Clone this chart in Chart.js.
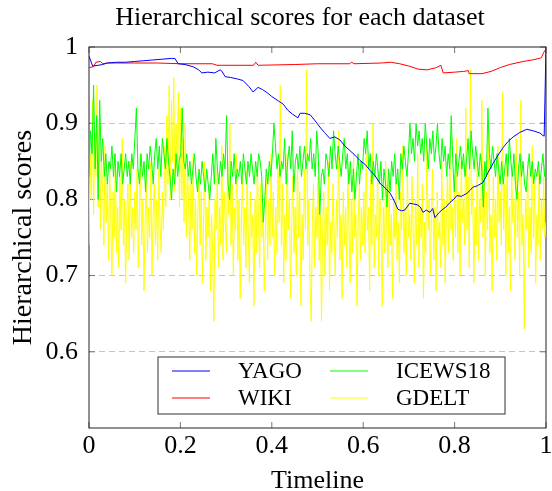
<!DOCTYPE html>
<html>
<head>
<meta charset="utf-8">
<script src="https://cdn.jsdelivr.net/npm/chart.js@4.4.1/dist/chart.umd.min.js"></script>
<style>
  html, body { margin: 0; padding: 0; background: #fff; }
  canvas { display: block; }
</style>
</head>
<body>
<canvas id="scores_chart" width="552" height="491"></canvas>
<script>
// axis ticks
const xTickValues = [0, 0.2, 0.4, 0.6, 0.8, 1];
const yTickValues = [0.6, 0.7, 0.8, 0.9, 1];

// YAGO (timeline position, score)
const yagoX = [0, 0.008, 0.02, 0.03, 0.04, 0.06, 0.08, 0.10, 0.12, 0.14, 0.16, 0.18, 0.188, 0.195, 0.21,
  0.228, 0.24, 0.247, 0.26, 0.275, 0.287, 0.291, 0.298, 0.31, 0.325, 0.337, 0.35, 0.359, 0.37, 0.38,
  0.39, 0.40, 0.415, 0.425, 0.435, 0.445, 0.457, 0.462, 0.472, 0.484, 0.495, 0.505, 0.515, 0.527, 0.538,
  0.549, 0.56, 0.571, 0.582, 0.593, 0.604, 0.615, 0.626, 0.637, 0.648, 0.659, 0.668, 0.676, 0.684, 0.691,
  0.702, 0.71, 0.718, 0.725, 0.731, 0.738, 0.746, 0.752, 0.757, 0.765, 0.772, 0.781, 0.790, 0.798, 0.805,
  0.815, 0.827, 0.834, 0.840, 0.85, 0.862, 0.873, 0.884, 0.895, 0.906, 0.917, 0.928, 0.943, 0.958, 0.972,
  0.987, 0.993, 0.996, 1.0];
const yagoY = [0.988, 0.975, 0.976, 0.977, 0.979, 0.980, 0.980, 0.981, 0.982, 0.983, 0.984, 0.985, 0.985, 0.978, 0.977,
  0.974, 0.970, 0.966, 0.967, 0.966, 0.970, 0.968, 0.961, 0.960, 0.958, 0.956, 0.948, 0.941, 0.947, 0.944,
  0.940, 0.935, 0.929, 0.925, 0.917, 0.912, 0.907, 0.913, 0.913, 0.911, 0.903, 0.895, 0.888, 0.880, 0.882,
  0.878, 0.870, 0.864, 0.858, 0.851, 0.846, 0.838, 0.831, 0.821, 0.815, 0.808, 0.798, 0.787, 0.785, 0.786,
  0.795, 0.794, 0.793, 0.790, 0.783, 0.786, 0.783, 0.788, 0.776, 0.782, 0.786, 0.790, 0.796, 0.800, 0.805,
  0.804, 0.808, 0.812, 0.816, 0.818, 0.822, 0.835, 0.847, 0.858, 0.868, 0.876, 0.882, 0.888, 0.892, 0.890,
  0.887, 0.884, 0.883, 1.0];

// WIKI (timeline position, score)
const wikiX = [0, 0.01, 0.015, 0.025, 0.03, 0.04, 0.06, 0.1, 0.15, 0.2, 0.27, 0.28, 0.36, 0.365, 0.37,
  0.45, 0.5, 0.57, 0.575, 0.58, 0.64, 0.66, 0.68, 0.70, 0.72, 0.74, 0.76, 0.77, 0.775, 0.80,
  0.82, 0.83, 0.832, 0.86, 0.88, 0.90, 0.92, 0.95, 0.97, 0.985, 0.99, 0.995, 1.0];
const wikiY = [0.973, 0.974, 0.980, 0.981, 0.978, 0.979, 0.979, 0.979, 0.979, 0.978, 0.978, 0.976, 0.976, 0.980, 0.976,
  0.977, 0.978, 0.978, 0.980, 0.978, 0.979, 0.980, 0.978, 0.975, 0.971, 0.970, 0.973, 0.976, 0.966, 0.967,
  0.968, 0.969, 0.965, 0.965, 0.968, 0.973, 0.977, 0.981, 0.983, 0.985, 0.986, 0.993, 0.997];

// ICEWS18, evenly spaced over the timeline (30 per 0.1)
const icewsY = [
  0.83, 0.89, 0.86, 0.95, 0.84, 0.91, 0.80, 0.93, 0.85, 0.88, 0.83, 0.86, 0.82, 0.85, 0.84, 0.87, 0.83, 0.86, 0.81, 0.85, 0.83, 0.86, 0.82, 0.84, 0.86, 0.83, 0.85, 0.82, 0.86, 0.84,
  0.88, 0.92, 0.84, 0.82, 0.86, 0.83, 0.85, 0.81, 0.86, 0.84, 0.87, 0.85, 0.82, 0.86, 0.88, 0.84, 0.87, 0.83, 0.88, 0.86, 0.84, 0.88, 0.85, 0.83, 0.80, 0.84, 0.82, 0.86, 0.83, 0.85,
  0.86, 0.92, 0.85, 0.84, 0.86, 0.83, 0.85, 0.82, 0.84, 0.86, 0.83, 0.81, 0.84, 0.82, 0.85, 0.83, 0.81, 0.84, 0.82, 0.80, 0.83, 0.86, 0.82, 0.88, 0.84, 0.82, 0.85, 0.83, 0.86, 0.84,
  0.91, 0.82, 0.80, 0.85, 0.83, 0.86, 0.82, 0.84, 0.83, 0.85, 0.82, 0.86, 0.84, 0.82, 0.85, 0.83, 0.86, 0.84, 0.82, 0.85, 0.83, 0.86, 0.85, 0.83, 0.77, 0.80, 0.84, 0.82, 0.85, 0.83,
  0.86, 0.90, 0.87, 0.84, 0.86, 0.83, 0.85, 0.84, 0.88, 0.82, 0.85, 0.87, 0.84, 0.89, 0.81, 0.85, 0.86, 0.84, 0.87, 0.83, 0.85, 0.87, 0.84, 0.86, 0.85, 0.88, 0.84, 0.86, 0.83, 0.89,
  0.86, 0.78, 0.83, 0.84, 0.82, 0.86, 0.85, 0.83, 0.87, 0.84, 0.89, 0.86, 0.84, 0.87, 0.85, 0.83, 0.86, 0.88, 0.84, 0.86, 0.82, 0.85, 0.81, 0.84, 0.80, 0.83, 0.86, 0.82, 0.85, 0.84,
  0.88, 0.86, 0.89, 0.84, 0.86, 0.82, 0.85, 0.83, 0.86, 0.84, 0.82, 0.85, 0.80, 0.84, 0.82, 0.79, 0.84, 0.81, 0.85, 0.83, 0.86, 0.82, 0.84, 0.80, 0.86, 0.84, 0.87, 0.85, 0.83, 0.86,
  0.90, 0.86, 0.88, 0.85, 0.90, 0.87, 0.89, 0.86, 0.88, 0.85, 0.90, 0.87, 0.84, 0.88, 0.86, 0.89, 0.85, 0.87, 0.90, 0.86, 0.84, 0.88, 0.85, 0.87, 0.83, 0.86, 0.84, 0.91, 0.85, 0.81,
  0.86, 0.83, 0.85, 0.87, 0.84, 0.86, 0.83, 0.85, 0.88, 0.84, 0.89, 0.86, 0.84, 0.87, 0.85, 0.83, 0.86, 0.84, 0.79, 0.85, 0.83, 0.92, 0.86, 0.84, 0.87, 0.85, 0.83, 0.86, 0.84, 0.82,
  0.85, 0.82, 0.84, 0.86, 0.83, 0.88, 0.85, 0.83, 0.86, 0.82, 0.80, 0.84, 0.86, 0.83, 0.85, 0.82, 0.81, 0.84, 0.86, 0.83, 0.85, 0.82, 0.84, 0.83, 0.85, 0.82, 0.84, 0.86, 0.83, 0.86
];

// GDELT, evenly spaced over the timeline (40 per 0.1)
const gdeltY = [
  0.74, 0.86, 0.80, 0.93, 0.78, 0.88, 0.83, 0.95, 0.79, 0.90, 0.76, 0.85, 0.81, 0.74, 0.87, 0.77, 0.82, 0.72, 0.84, 0.78,
  0.70, 0.81, 0.75, 0.86, 0.73, 0.79, 0.71, 0.83, 0.76, 0.88, 0.74, 0.80, 0.69, 0.78, 0.82, 0.72, 0.85, 0.75, 0.79, 0.73,
  0.81, 0.76, 0.84, 0.71, 0.78, 0.86, 0.74, 0.80, 0.68, 0.77, 0.83, 0.73, 0.79, 0.75, 0.85, 0.70, 0.78, 0.82, 0.74, 0.80,
  0.72, 0.84, 0.77, 0.73, 0.81, 0.76, 0.87, 0.79, 0.91, 0.82, 0.95, 0.80, 0.93, 0.85, 0.96, 0.81, 0.90, 0.84, 0.94, 0.79,
  0.92, 0.80, 0.88, 0.77, 0.90, 0.75, 0.84, 0.79, 0.72, 0.82, 0.76, 0.86, 0.73, 0.80, 0.70, 0.78, 0.83, 0.74, 0.81, 0.69,
  0.77, 0.85, 0.72, 0.79, 0.75, 0.82, 0.68, 0.78, 0.73, 0.64, 0.80, 0.76, 0.84, 0.71, 0.79, 0.74, 0.87, 0.72, 0.81, 0.77,
  0.73, 0.85, 0.78, 0.90, 0.74, 0.82, 0.70, 0.79, 0.76, 0.86, 0.72, 0.80, 0.67, 0.77, 0.83, 0.74, 0.79, 0.71, 0.84, 0.76,
  0.69, 0.81, 0.75, 0.78, 0.66, 0.80, 0.73, 0.85, 0.77, 0.71, 0.82, 0.75, 0.79, 0.68, 0.76, 0.83, 0.72, 0.80, 0.74, 0.86,
  0.75, 0.81, 0.70, 0.79, 0.73, 0.84, 0.77, 0.95, 0.74, 0.82, 0.69, 0.78, 0.72, 0.86, 0.76, 0.80, 0.67, 0.77, 0.83, 0.73,
  0.79, 0.70, 0.85, 0.75, 0.81, 0.66, 0.78, 0.72, 0.84, 0.76, 0.97, 0.74, 0.80, 0.69, 0.64, 0.77, 0.82, 0.71, 0.79, 0.75,
  0.83, 0.72, 0.78, 0.64, 0.76, 0.81, 0.70, 0.79, 0.74, 0.85, 0.68, 0.77, 0.73, 0.82, 0.76, 0.70, 0.80, 0.75, 0.89, 0.72,
  0.78, 0.67, 0.81, 0.74, 0.79, 0.71, 0.84, 0.76, 0.69, 0.80, 0.73, 0.86, 0.75, 0.78, 0.66, 0.77, 0.82, 0.72, 0.79, 0.74,
  0.81, 0.73, 0.86, 0.76, 0.79, 0.68, 0.83, 0.74, 0.90, 0.71, 0.78, 0.75, 0.84, 0.70, 0.80, 0.77, 0.66, 0.79, 0.73, 0.85,
  0.76, 0.71, 0.82, 0.74, 0.78, 0.67, 0.80, 0.75, 0.83, 0.72, 0.77, 0.69, 0.81, 0.76, 0.87, 0.73, 0.79, 0.70, 0.84, 0.75,
  0.78, 0.72, 0.83, 0.76, 0.69, 0.80, 0.74, 0.86, 0.71, 0.79, 0.75, 0.82, 0.67, 0.77, 0.73, 0.88, 0.76, 0.80, 0.70, 0.78,
  0.84, 0.72, 0.79, 0.68, 0.81, 0.75, 0.77, 0.71, 0.85, 0.74, 0.80, 0.69, 0.78, 0.83, 0.73, 0.87, 0.76, 0.79, 0.72, 0.82,
  0.75, 0.88, 0.73, 0.81, 0.70, 0.85, 0.77, 0.80, 0.74, 0.92, 0.76, 0.83, 0.71, 0.97, 0.78, 0.82, 0.69, 0.79, 0.74, 0.86,
  0.72, 0.80, 0.77, 0.93, 0.75, 0.84, 0.70, 0.81, 0.76, 0.89, 0.73, 0.78, 0.68, 0.83, 0.75, 0.80, 0.72, 0.87, 0.77, 0.81,
  0.74, 0.94, 0.76, 0.82, 0.70, 0.86, 0.73, 0.79, 0.68, 0.84, 0.77, 0.80, 0.72, 0.88, 0.75, 0.81, 0.70, 0.93, 0.74, 0.78,
  0.63, 0.80, 0.76, 0.85, 0.71, 0.79, 0.73, 0.87, 0.75, 0.82, 0.69, 0.78, 0.74, 0.84, 0.72, 0.80, 0.76, 0.83, 0.75, 0.77
];

const seriesNames = ['YAGO', 'WIKI', 'ICEWS18', 'GDELT'];
const seriesColors = ['#0000ff', '#ff0000', '#00ff00', '#ffff00'];
const chartTitle = 'Hierarchical scores for each dataset';

function pairs(xs, ys) {
  return ys.map((v, i) => ({x: xs[i], y: v}));
}
function evenly(ys) {
  return ys.map((v, i) => ({x: i / (ys.length - 1), y: v}));
}

const serif = "'Liberation Serif', 'Times New Roman', serif";
Chart.defaults.font.family = serif;
Chart.defaults.color = '#000';

// box around the plot + inward tick marks
const framePlugin = {
  id: 'frame',
  beforeDatasetsDraw(chart) {
    const {ctx, chartArea: a, scales: {x, y}} = chart;
    const tl = 6;
    ctx.save();
    ctx.strokeStyle = '#777';
    ctx.lineWidth = 1;
    ctx.beginPath();
    xTickValues.forEach(v => {
      const px = x.getPixelForValue(v);
      ctx.moveTo(px, a.bottom); ctx.lineTo(px, a.bottom - tl);
      ctx.moveTo(px, a.top); ctx.lineTo(px, a.top + tl);
    });
    yTickValues.forEach(v => {
      const py = y.getPixelForValue(v);
      ctx.moveTo(a.left, py); ctx.lineTo(a.left + tl, py);
      ctx.moveTo(a.right, py); ctx.lineTo(a.right - tl, py);
    });
    ctx.stroke();
    ctx.strokeStyle = '#222';
    ctx.strokeRect(a.left, a.top, a.right - a.left, a.bottom - a.top);
    ctx.restore();
  },
  afterDraw(chart) {
    const {ctx} = chart;
    ctx.save();
    ctx.font = '26px ' + serif;
    ctx.fillStyle = '#000';
    ctx.textAlign = 'center';
    ctx.textBaseline = 'alphabetic';
    ctx.fillText(chartTitle, 300, 25);
    ctx.restore();
  }
};

// two column legend in the lower right corner
const legendPlugin = {
  id: 'cornerLegend',
  afterDatasetsDraw(chart) {
    const {ctx, chartArea: a} = chart;
    const w = 347, h = 57;
    const left = a.right - 41 - w, top = a.bottom - 14 - h;
    ctx.save();
    ctx.fillStyle = '#fff';
    ctx.fillRect(left, top, w, h);
    ctx.strokeStyle = '#333';
    ctx.lineWidth = 1;
    ctx.strokeRect(left, top, w, h);
    const layout = [[0, 0, 0], [2, 1, 0], [1, 0, 1], [3, 1, 1]]; // dataset, column, row
    ctx.font = '23px ' + serif;
    ctx.textBaseline = 'middle';
    ctx.fillStyle = '#000';
    layout.forEach(([d, c, r]) => {
      const ds = chart.data.datasets[d];
      const cx = left + (c === 0 ? 14 : 172);
      const cy = top + 14 + r * 27;
      ctx.strokeStyle = ds.borderColor;
      ctx.lineWidth = 1;
      ctx.beginPath();
      ctx.moveTo(cx, cy); ctx.lineTo(cx + 38, cy);
      ctx.stroke();
      ctx.fillText(ds.label, cx + 66, cy + 1);
    });
    ctx.restore();
  }
};

const ctx = document.getElementById('scores_chart').getContext('2d');
new Chart(ctx, {
  type: 'line',
  data: {
    datasets: [
      {label: seriesNames[0], data: pairs(yagoX, yagoY), borderColor: seriesColors[0]},
      {label: seriesNames[1], data: pairs(wikiX, wikiY), borderColor: seriesColors[1]},
      {label: seriesNames[2], data: evenly(icewsY), borderColor: seriesColors[2]},
      {label: seriesNames[3], data: evenly(gdeltY), borderColor: seriesColors[3]}
    ].map(d => Object.assign(d, {borderWidth: 1, pointRadius: 0, tension: 0, fill: false}))
  },
  options: {
    responsive: false,
    animation: false,
    devicePixelRatio: 1,
    layout: {padding: {left: 0, right: 6, top: 47, bottom: 0}},
    plugins: {
      legend: {display: false},
      tooltip: {enabled: false},
      title: {display: false}
    },
    scales: {
      x: {
        type: 'linear',
        min: 0, max: 1,
        afterBuildTicks: s => { s.ticks = xTickValues.map(v => ({value: v})); },
        afterFit: s => { s.height = 63; },
        ticks: {
          padding: -5,
          font: {size: 26},
          color: '#000',
          callback: v => (v === 0 || v === 1) ? String(v) : v.toFixed(1)
        },
        grid: {display: false},
        border: {display: false},
        title: {
          display: true,
          text: 'Timeline',
          color: '#000',
          font: {size: 26, lineHeight: 1},
          padding: {top: 0, bottom: -3}
        }
      },
      y: {
        type: 'linear',
        min: 0.5, max: 1,
        afterBuildTicks: s => { s.ticks = yTickValues.map(v => ({value: v})); },
        afterFit: s => { s.width = 89; },
        ticks: {
          padding: 11,
          font: {size: 26},
          color: '#000',
          callback: v => v === 1 ? '1' : v.toFixed(1)
        },
        grid: {
          drawTicks: false,
          color: c => (c.tick && c.tick.value < 0.95) ? '#c4c4c4' : 'rgba(0,0,0,0)'
        },
        border: {display: false, dash: [6, 4]},
        title: {
          display: true,
          text: 'Hierarchical scores',
          color: '#000',
          font: {size: 28, lineHeight: 1},
          padding: {top: 10, bottom: 0}
        }
      }
    }
  },
  plugins: [framePlugin, legendPlugin]
});
</script>
</body>
</html>
